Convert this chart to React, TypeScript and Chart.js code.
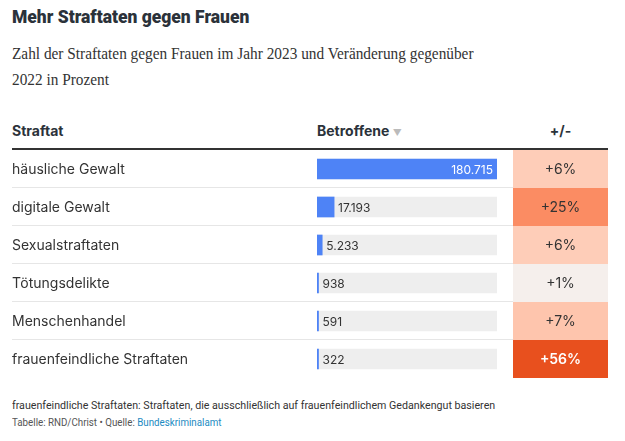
import React, { useEffect, useRef } from "react";
import { Chart, registerables } from "chart.js";

Chart.register(...registerables);

const categories = [
  "häusliche Gewalt",
  "digitale Gewalt",
  "Sexualstraftaten",
  "Tötungsdelikte",
  "Menschenhandel",
  "frauenfeindliche Straftaten",
];
const victims = [180715, 17193, 5233, 938, 591, 322];
const changePct = [6, 25, 6, 1, 7, 56];

const TABLE_FONT = "Inter, Roboto, 'Noto Sans', sans-serif";

const heatStops: [number, [number, number, number]][] = [
  [0, [245, 240, 238]],
  [1, [245, 239, 236]],
  [6, [254, 205, 184]],
  [7, [254, 197, 173]],
  [25, [251, 140, 99]],
  [56, [232, 80, 30]],
];

function heatColor(v: number): string {
  for (let i = 1; i < heatStops.length; i++) {
    const [v1, c1] = heatStops[i];
    const [v0, c0] = heatStops[i - 1];
    if (v <= v1) {
      const t = (v - v0) / (v1 - v0 || 1);
      const c = c0.map((x, k) => Math.round(x + (c1[k] - x) * t));
      return `rgb(${c[0]},${c[1]},${c[2]})`;
    }
  }
  const c = heatStops[heatStops.length - 1][1];
  return `rgb(${c[0]},${c[1]},${c[2]})`;
}

function fmt(n: number): string {
  return String(n).replace(/\B(?=(\d{3})+(?!\d))/g, ".");
}

const CELL_LEFT = 513;
const CELL_RIGHT = 608;
const LABEL_X = 12;

const tablePlugin = {
  id: "tablePlugin",
  beforeDatasetsDraw(chart: any) {
    const { ctx, chartArea, scales } = chart;
    const y = scales.y;
    const n = categories.length;
    const rowH = (chartArea.bottom - chartArea.top) / n;
    ctx.save();
    ctx.strokeStyle = "#e6e6e6";
    ctx.lineWidth = 1;
    for (let i = 1; i < n; i++) {
      const yy = Math.round(chartArea.top + i * rowH) - 0.5;
      ctx.beginPath();
      ctx.moveTo(LABEL_X, yy);
      ctx.lineTo(CELL_LEFT, yy);
      ctx.stroke();
    }
    for (let i = 0; i < n; i++) {
      const cy = y.getPixelForValue(i);
      ctx.fillStyle = heatColor(changePct[i]);
      ctx.fillRect(CELL_LEFT, cy - rowH / 2, CELL_RIGHT - CELL_LEFT, rowH);
      ctx.fillStyle = changePct[i] > 40 ? "#ffffff" : "#333333";
      ctx.font = `${changePct[i] > 40 ? 600 : 400} 14px ${TABLE_FONT}`;
      ctx.textAlign = "center";
      ctx.textBaseline = "middle";
      ctx.fillText(`+${changePct[i]}%`, (CELL_LEFT + CELL_RIGHT) / 2, cy + 1);
    }
    ctx.fillStyle = "#333333";
    ctx.font = `400 14px ${TABLE_FONT}`;
    ctx.textAlign = "left";
    ctx.textBaseline = "middle";
    for (let i = 0; i < n; i++) {
      ctx.fillText(categories[i], LABEL_X, y.getPixelForValue(i) + 1);
    }
    ctx.restore();
  },
  afterDatasetsDraw(chart: any) {
    const { ctx } = chart;
    const meta = chart.getDatasetMeta(0);
    ctx.save();
    ctx.font = `400 12px ${TABLE_FONT}`;
    ctx.textBaseline = "middle";
    meta.data.forEach((bar: any, i: number) => {
      const label = fmt(victims[i]);
      const w = ctx.measureText(label).width;
      const barW = bar.x - bar.base;
      if (barW > w + 12) {
        ctx.fillStyle = "#ffffff";
        ctx.textAlign = "right";
        ctx.fillText(label, bar.x - 4, bar.y + 1);
      } else {
        ctx.fillStyle = "#333333";
        ctx.textAlign = "left";
        ctx.fillText(label, bar.x + 4, bar.y + 1);
      }
    });
    ctx.restore();
  },
};

export default function App() {
  const canvasRef = useRef<HTMLCanvasElement | null>(null);

  useEffect(() => {
    if (!canvasRef.current) return;
    const maxV = Math.max(...victims);
    const chart = new Chart(canvasRef.current, {
      type: "bar",
      data: {
        labels: categories,
        datasets: [
          {
            data: victims,
            backgroundColor: "#4e83f6",
            barThickness: 20,
            minBarLength: 1.5,
            grouped: false,
          } as any,
          {
            data: victims.map(() => maxV),
            backgroundColor: "#eeeeee",
            barThickness: 20,
            grouped: false,
          } as any,
        ],
      },
      options: {
        indexAxis: "y",
        animation: false,
        responsive: false,
        maintainAspectRatio: false,
        layout: { padding: { left: 317, right: 128, top: 0, bottom: 0 } },
        scales: {
          x: { display: false, min: 0, max: maxV },
          y: { display: false },
        },
        plugins: {
          legend: { display: false },
          tooltip: { enabled: false },
        },
        events: [],
      },
      plugins: [tablePlugin],
    });
    return () => chart.destroy();
  }, []);

  const abs = (s: React.CSSProperties): React.CSSProperties => ({ position: "absolute", ...s });

  return (
    <div
      style={{
        position: "fixed",
        left: 0,
        top: 0,
        width: 625,
        height: 441,
        background: "#ffffff",
        color: "#333333",
        overflow: "hidden",
      }}
    >
      <div
        style={abs({
          left: 12,
          top: 4,
          fontFamily: "Roboto, sans-serif",
          fontWeight: 900,
          fontSize: 19,
          lineHeight: "26px",
          color: "#2b323a",
          whiteSpace: "nowrap",
          transform: "scaleX(0.92)",
          transformOrigin: "left center",
        })}
      >
        Mehr Straftaten gegen Frauen
      </div>
      <div
        style={abs({
          left: 12,
          top: 40,
          fontFamily: "'Liberation Serif', serif",
          fontSize: 17.5,
          lineHeight: "26px",
          color: "#333333",
          whiteSpace: "nowrap",
          transform: "scaleX(0.875)",
          transformOrigin: "left center",
        })}
      >
        Zahl der Straftaten gegen Frauen im Jahr 2023 und Veränderung gegenüber
        <br />
        2022 in Prozent
      </div>
      <div
        style={abs({
          left: 12,
          top: 121,
          fontFamily: TABLE_FONT,
          fontWeight: 700,
          fontSize: 14,
          lineHeight: "20px",
          color: "#2b323a",
        })}
      >
        Straftat
      </div>
      <div
        style={abs({
          left: 317,
          top: 121,
          fontFamily: TABLE_FONT,
          fontWeight: 700,
          fontSize: 14,
          lineHeight: "20px",
          color: "#2b323a",
          whiteSpace: "nowrap",
        })}
      >
        Betroffene <span style={{ color: "#bbbbbb", fontSize: 9, fontWeight: 400 }}>▼</span>
      </div>
      <div
        style={abs({
          left: CELL_LEFT,
          width: CELL_RIGHT - CELL_LEFT,
          top: 121,
          textAlign: "center",
          fontFamily: TABLE_FONT,
          fontWeight: 700,
          fontSize: 14,
          lineHeight: "20px",
          color: "#2b323a",
        })}
      >
        +/-
      </div>
      <div style={abs({ left: 12, top: 148, width: 596, height: 2, background: "#333333" })} />
      <canvas
        ref={canvasRef}
        width={625}
        height={228}
        style={abs({ left: 0, top: 150, width: 625, height: 228 })}
      />
      <div
        style={abs({
          left: 12,
          top: 396,
          fontFamily: "Roboto, sans-serif",
          fontSize: 11.6,
          lineHeight: "18px",
          color: "#333333",
          whiteSpace: "nowrap",
          transform: "scaleX(0.92)",
          transformOrigin: "left center",
        })}
      >
        frauenfeindliche Straftaten: Straftaten, die ausschließlich auf frauenfeindlichem Gedankengut basieren
      </div>
      <div
        style={abs({
          left: 12,
          top: 415,
          fontFamily: "Roboto, sans-serif",
          fontSize: 10.5,
          lineHeight: "16px",
          color: "#555555",
          whiteSpace: "nowrap",
          transform: "scaleX(0.93)",
          transformOrigin: "left center",
        })}
      >
        Tabelle: RND/Christ • Quelle: <span style={{ color: "#1d8bc2" }}>Bundeskriminalamt</span>
      </div>
    </div>
  );
}
